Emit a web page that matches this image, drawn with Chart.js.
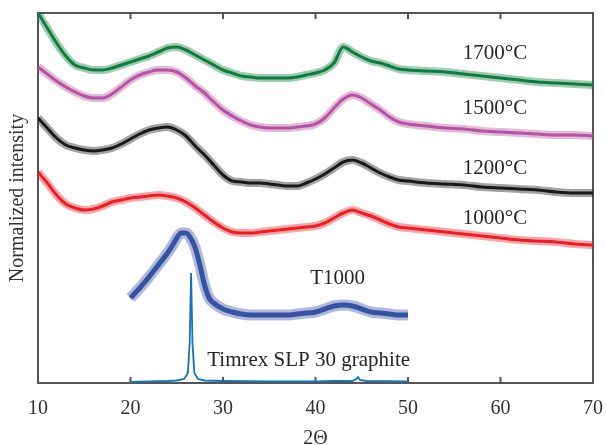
<!DOCTYPE html>
<html>
<head>
<meta charset="utf-8">
<script src="https://cdn.jsdelivr.net/npm/chart.js@4"></script>
<style>
  html, body { margin: 0; padding: 0; background: #fff; }
</style>
</head>
<body>
<canvas id="xrdChart" width="606" height="445"></canvas>
<script>
// 2-theta grid shared by the four heat-treated samples
const theta = [10, 11, 12, 13, 14, 15, 16, 17, 18, 19, 20, 21, 22, 23, 24, 25, 26, 27, 28, 29, 30,
  31, 32, 33, 34, 35, 36, 37, 38, 39, 40, 41, 42, 43, 44, 45, 46, 47, 48, 49, 50,
  52, 54, 56, 58, 60, 62, 64, 66, 68, 70];

const s1700 = [370, 355, 340, 327, 318, 315, 313, 313, 315, 318, 321, 324, 327, 331, 335, 336, 333, 328, 323, 318, 313,
  310, 307, 306, 305, 305, 305, 305, 306, 308, 310, 313, 320, 336, 331, 326, 322, 320, 317, 314, 313,
  312, 311, 309, 307, 305, 303, 301, 300, 299, 298];
const s1500 = [316, 309, 302, 296, 291, 287, 285, 285, 289, 296, 303, 308, 311, 313, 313, 311, 305, 297, 290, 281, 273,
  267, 262, 258, 256, 255, 255, 255, 256, 257, 259, 265, 275, 284, 288, 285, 279, 273, 266, 261, 259,
  257, 255, 254, 252, 251, 250, 249, 248, 248, 247];
const s1200 = [265, 255, 245, 238, 235, 233, 232, 233, 235, 239, 244, 249, 253, 255, 256, 253, 247, 237, 228, 218, 208,
  202, 201, 200, 200, 199, 198, 197, 197, 200, 204, 209, 215, 221, 223, 220, 215, 210, 206, 203, 202,
  200, 199, 198, 196, 195, 194, 193, 191, 190, 190];
const s1000 = [211, 200, 188, 179, 175, 173, 174, 177, 181, 183, 185, 186, 187, 188, 187, 185, 181, 175, 168, 161, 155,
  151, 150, 150, 151, 152, 153, 154, 155, 156, 157, 160, 165, 170, 173, 170, 167, 163, 159, 156, 155,
  153, 151, 149, 147, 145, 143, 142, 141, 139, 138];

// T1000 precursor
const thetaT1000 = [20, 21, 22, 23, 24, 24.5, 25, 25.5, 26, 26.5, 27, 27.5, 28, 28.5, 29, 30, 31, 32, 33, 34, 35,
  36, 37, 38, 39, 40, 41, 42, 43, 44, 45, 46, 47, 48, 49, 50];
const sT1000 = [85, 95, 106, 118, 130, 137, 145, 150, 150, 145, 135, 118, 98, 85, 80, 74, 71, 69, 68, 68, 68,
  68, 68, 69, 70, 71, 74, 77, 78, 77, 74, 71, 70, 69, 68, 68];

// Timrex SLP 30 graphite reference
const thetaGraphite = [20, 22, 24, 25, 25.8, 26.2, 26.4, 26.55, 26.7, 26.9, 27.3, 28, 30, 35, 40, 42, 44, 44.4, 44.6, 44.8, 45.5, 50];
const sGraphite = [1, 1.5, 2, 2.5, 4, 10, 40, 110, 40, 10, 4, 2.5, 2, 1.5, 1.5, 2, 2, 4, 6, 3, 2, 1.5];

const xTicks = [10, 20, 30, 40, 50, 60, 70];

const curveLabels = [
  { text: "1700°C", x: 59.4, y: 330, align: "center" },
  { text: "1500°C", x: 59.4, y: 275, align: "center" },
  { text: "1200°C", x: 59.4, y: 215, align: "center" },
  { text: "1000°C", x: 59.4, y: 165, align: "center" },
  { text: "T1000", x: 42.4, y: 105, align: "center" },
  { text: "Timrex SLP 30 graphite", x: 28.3, y: 23, align: "left" }
];

const FONT = "'Liberation Serif', 'Times New Roman', serif";

function pts(xs, ys) {
  return ys.map((v, i) => ({ x: xs[i], y: v }));
}

// noisy scans: a pale wide band under a darker core line
function noisy(label, xs, ys, color, core, band) {
  return [
    {
      label: label + " band",
      data: pts(xs, ys),
      borderColor: color + "66",
      borderWidth: band,
      pointRadius: 0,
      cubicInterpolationMode: "monotone",
      fill: false
    },
    {
      label: label,
      data: pts(xs, ys),
      borderColor: color,
      borderWidth: core,
      pointRadius: 0,
      cubicInterpolationMode: "monotone",
      fill: false
    }
  ];
}

// frame and inward ticks, drawn under the curves
const framePlugin = {
  id: "frame",
  beforeDatasetsDraw(chart) {
    const { ctx, chartArea: a, scales } = chart;
    ctx.save();
    ctx.strokeStyle = "#555";
    ctx.lineWidth = 2;
    ctx.strokeRect(a.left, a.top, a.right - a.left, a.bottom - a.top);
    xTicks.forEach((v) => {
      const px = scales.x.getPixelForValue(v);
      ctx.beginPath();
      ctx.moveTo(px, a.bottom);
      ctx.lineTo(px, a.bottom - 6);
      ctx.moveTo(px, a.top);
      ctx.lineTo(px, a.top + 6);
      ctx.stroke();
    });
    ctx.restore();
  },
  afterDatasetsDraw(chart) {
    const { ctx, scales } = chart;
    ctx.save();
    ctx.fillStyle = "#262626";
    ctx.font = "21px " + FONT;
    ctx.textBaseline = "middle";
    curveLabels.forEach((l) => {
      ctx.textAlign = l.align;
      ctx.fillText(l.text, scales.x.getPixelForValue(l.x), scales.y.getPixelForValue(l.y));
    });
    ctx.restore();
  }
};

new Chart(document.getElementById("xrdChart"), {
  type: "line",
  data: {
    datasets: [
      ...noisy("1700°C", theta, s1700, "#0d7d3c", 3, 8),
      ...noisy("1500°C", theta, s1500, "#b752a2", 3, 8),
      ...noisy("1200°C", theta, s1200, "#1a1a1a", 3, 8),
      ...noisy("1000°C", theta, s1000, "#ee1d25", 3, 8),
      ...noisy("T1000", thetaT1000, sT1000, "#3653a4", 5, 11),
      {
        label: "Timrex SLP 30 graphite",
        data: pts(thetaGraphite, sGraphite),
        borderColor: "#1672bb",
        borderWidth: 1.8,
        pointRadius: 0,
        tension: 0,
        fill: false
      }
    ]
  },
  options: {
    responsive: false,
    animation: false,
    devicePixelRatio: 1,
    layout: { padding: { top: 13, right: 3, left: 0, bottom: 0 } },
    plugins: {
      legend: { display: false },
      tooltip: { enabled: false }
    },
    scales: {
      x: {
        type: "linear",
        min: 10,
        max: 70,
        afterFit: (s) => { s.height = 62; s.paddingRight = 13; s.paddingLeft = 0; },
        afterBuildTicks: (s) => { s.ticks = xTicks.map((v) => ({ value: v })); },
        grid: { display: false, drawTicks: false },
        border: { display: false },
        ticks: { color: "#333", font: { family: FONT, size: 20 }, padding: 14 },
        title: {
          display: true,
          text: "2Θ",
          color: "#333",
          font: { family: FONT, size: 20 },
          padding: { top: 0, bottom: -6 }
        }
      },
      y: {
        min: 0,
        max: 370,
        afterFit: (s) => { s.width = 38; },
        grid: { display: false, drawTicks: false },
        border: { display: false },
        ticks: { display: false },
        title: {
          display: true,
          text: "Normalized intensity",
          color: "#333",
          font: { family: FONT, size: 20 },
          padding: { top: 6, bottom: 0 }
        }
      }
    }
  },
  plugins: [framePlugin]
});
</script>
</body>
</html>
